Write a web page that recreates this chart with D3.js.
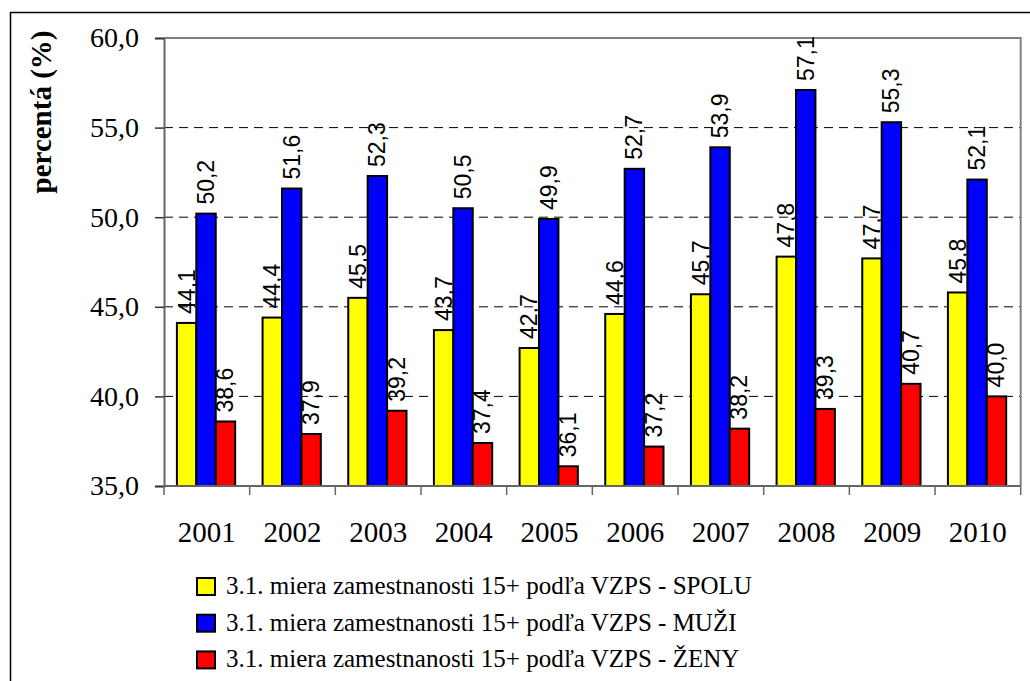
<!DOCTYPE html>
<html>
<head>
<meta charset="utf-8">
<script src="https://cdn.jsdelivr.net/npm/d3@7"></script>
<style>
    body { margin: 0; background: #fff; }
    .bar-value { font-family: 'Liberation Sans', Arial, sans-serif; font-size: 23px; fill: #000; }
    .serif-label { font-family: 'Liberation Serif', 'Times New Roman', serif !important; fill: #000; }
</style>
</head>
<body>
<div id="chartPlaceholder"></div>
<script>
const years = ['2001', '2002', '2003', '2004', '2005', '2006', '2007', '2008', '2009', '2010'];
const spolu = [44.1, 44.4, 45.5, 43.7, 42.7, 44.6, 45.7, 47.8, 47.7, 45.8];
const muzi = [50.2, 51.6, 52.3, 50.5, 49.9, 52.7, 53.9, 57.1, 55.3, 52.1];
const zeny = [38.6, 37.9, 39.2, 37.4, 36.1, 37.2, 38.2, 39.3, 40.7, 40.0];
const seriesNames = [
    '3.1. miera zamestnanosti 15+ podľa VZPS - SPOLU',
    '3.1. miera zamestnanosti 15+ podľa VZPS - MUŽI',
    '3.1. miera zamestnanosti 15+ podľa VZPS - ŽENY'
];
const seriesColors = ['#ffff00', '#0000ff', '#ff0000'];
const yTicks = [35, 40, 45, 50, 55, 60];

const serif = "'Liberation Serif', 'Times New Roman', serif";

class GroupedBarChart {
    margin = {top: 38, left: 164, bottom: 486, right: 1020.7};

    constructor() {
        this.series = [spolu, muzi, zeny].map((values, i) => ({
            name: seriesNames[i],
            color: seriesColors[i],
            values: values
        }));
    }

    render() {
        const m = this.margin;
        const fmt = v => v.toFixed(1).replace('.', ',');

        const svg = d3.select('#chartPlaceholder')
                      .append('svg')
                      .attr('width', 1030)
                      .attr('height', 681);

        // outer frame, runs off the right and bottom edges
        svg.append('path')
           .attr('d', 'M1040,12.5H10.5V700')
           .attr('fill', 'none')
           .attr('stroke', '#000')
           .attr('stroke-width', 1.5);

        const x0 = d3.scaleBand()
                     .domain(years)
                     .range([m.left, m.right]);

        const groupW = x0.bandwidth() * 0.68;
        const x1 = d3.scaleBand()
                     .domain(d3.range(this.series.length))
                     .range([(x0.bandwidth() - groupW) / 2 - 0.8, (x0.bandwidth() + groupW) / 2 - 0.8]);

        const y = d3.scaleLinear()
                    .domain([35, 60])
                    .range([m.bottom, m.top]);

        // dashed grid lines
        svg.append('g').selectAll('line')
           .data(yTicks.filter(t => t > 35 && t < 60))
           .join('line')
           .attr('x1', m.left)
           .attr('x2', m.right)
           .attr('y1', d => y(d))
           .attr('y2', d => y(d))
           .attr('stroke', '#000')
           .attr('stroke-width', 1)
           .attr('stroke-dasharray', '9,6');

        // plot area top + right border
        svg.append('path')
           .attr('d', `M${m.left},${m.top}H${m.right}V${m.bottom}`)
           .attr('fill', 'none')
           .attr('stroke', '#808080')
           .attr('stroke-width', 2);

        // bars
        const groups = svg.append('g').selectAll('g')
                          .data(this.series)
                          .join('g');

        groups.selectAll('rect')
              .data((s, si) => s.values.map((v, i) => ({v: v, year: years[i], si: si, color: s.color})))
              .join('rect')
              .attr('x', d => x0(d.year) + x1(d.si))
              .attr('y', d => y(d.v))
              .attr('width', x1.bandwidth())
              .attr('height', d => y(35) - y(d.v))
              .attr('fill', d => d.color)
              .attr('stroke', '#000')
              .attr('stroke-width', 2);

        groups.selectAll('text')
              .data((s, si) => s.values.map((v, i) => ({v: v, year: years[i], si: si})))
              .join('text')
              .attr('class', 'bar-value')
              .attr('transform', d => `translate(${x0(d.year) + x1(d.si) + x1.bandwidth() / 2 + 8},${y(d.v) - 9}) rotate(-90)`)
              .text(d => fmt(d.v));

        // y axis
        const yAxis = svg.append('g')
                         .attr('transform', `translate(${m.left},0)`)
                         .call(d3.axisLeft(y).tickValues(yTicks).tickSize(9).tickPadding(16).tickFormat(fmt))
                         .attr('font-family', serif)
                         .attr('font-size', 28);
        yAxis.select('.domain').attr('stroke', '#666').attr('stroke-width', 2);
        yAxis.selectAll('.tick line').attr('stroke', '#333').attr('stroke-width', 1.5);
        yAxis.selectAll('.tick text')
             .attr('class', 'serif-label')
             .attr('fill', '#000');

        // x axis with ticks between categories
        const xAxis = svg.append('g')
                         .attr('transform', `translate(0,${m.bottom})`);
        xAxis.append('line')
             .attr('x1', m.left)
             .attr('x2', m.right)
             .attr('stroke', '#666')
             .attr('stroke-width', 2);
        xAxis.selectAll('.sep')
             .data(years.concat(['end']))
             .join('line')
             .attr('class', 'sep')
             .attr('x1', (d, i) => i < years.length ? x0(d) : m.right)
             .attr('x2', (d, i) => i < years.length ? x0(d) : m.right)
             .attr('y1', 0)
             .attr('y2', 9)
             .attr('stroke', '#666')
             .attr('stroke-width', 1.5);
        xAxis.selectAll('.year')
             .data(years)
             .join('text')
             .attr('class', 'year serif-label')
             .attr('x', d => x0(d) + x0.bandwidth() / 2)
             .attr('y', 56)
             .attr('text-anchor', 'middle')
             .style('font-size', '29px')
             .text(d => d);

        // y title
        svg.append('text')
           .attr('class', 'serif-label')
           .attr('transform', 'translate(51,112) rotate(-90)')
           .attr('text-anchor', 'middle')
           .style('font-weight', 'bold')
           .style('font-size', '29px')
           .text('percentá (%)');

        // legend
        const legend = svg.append('g').selectAll('g')
                          .data(this.series)
                          .join('g')
                          .attr('transform', (d, i) => `translate(197,${578 + i * 36.7})`);
        legend.append('rect')
              .attr('width', 18)
              .attr('height', 17)
              .attr('fill', d => d.color)
              .attr('stroke', '#000')
              .attr('stroke-width', 2);
        legend.append('text')
              .attr('class', 'serif-label')
              .attr('x', 29)
              .attr('y', 16)
              .style('font-size', '25px')
              .text(d => d.name);
    }
}

new GroupedBarChart().render();
</script>
</body>
</html>
